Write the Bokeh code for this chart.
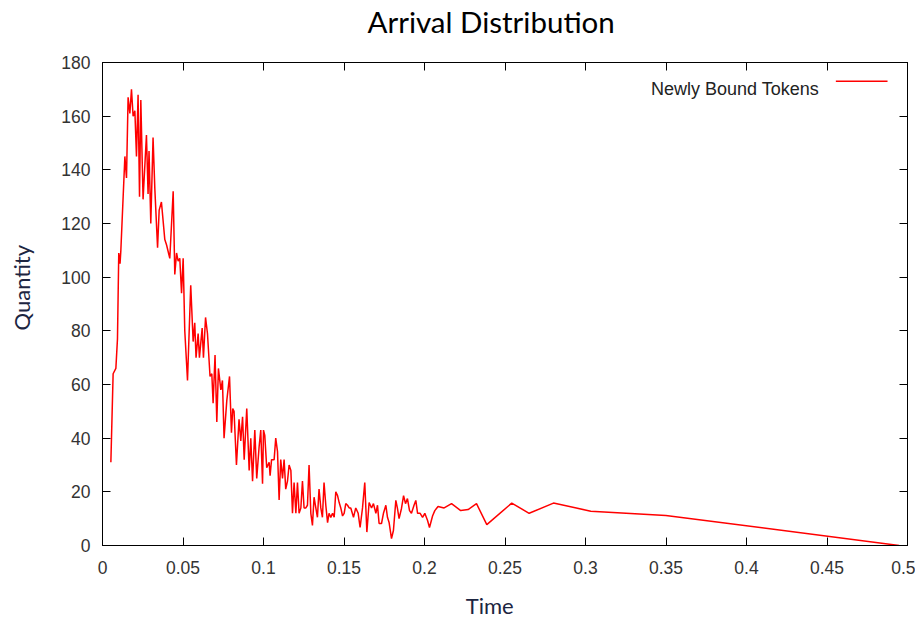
from bokeh.plotting import figure
from bokeh.models import Range1d, LinearAxis, FixedTicker, Title, NumeralTickFormatter, CustomJSTickFormatter, Label
from bokeh.embed import file_html
from bokeh.resources import INLINE

# ---- data ----
time = [
    0.0052, 0.0066, 0.0083, 0.0093, 0.0101, 0.0109, 0.0114, 0.0139, 0.0149, 0.0159,
    0.0170, 0.0180, 0.0190, 0.0201, 0.0211, 0.0221, 0.0230, 0.0238, 0.0252, 0.0273,
    0.0283, 0.0289, 0.0300, 0.0314, 0.0325, 0.0342, 0.0352, 0.0366, 0.0387, 0.0398,
    0.0418, 0.0439, 0.0449, 0.0460, 0.0470, 0.0480, 0.0491, 0.0501, 0.0511, 0.0528,
    0.0548, 0.0563, 0.0573, 0.0581, 0.0594, 0.0602, 0.0619, 0.0627, 0.0640, 0.0652,
    0.0668, 0.0679, 0.0687, 0.0699, 0.0710, 0.0720, 0.0735, 0.0745, 0.0755, 0.0772,
    0.0789, 0.0801, 0.0809, 0.0817, 0.0832, 0.0848, 0.0859, 0.0870, 0.0880, 0.0896,
    0.0911, 0.0921, 0.0932, 0.0946, 0.0958, 0.0973, 0.0983, 0.0994, 0.1000, 0.1008,
    0.1020, 0.1035, 0.1041, 0.1050, 0.1066, 0.1076, 0.1087, 0.1097, 0.1107, 0.1118,
    0.1128, 0.1138, 0.1149, 0.1159, 0.1170, 0.1180, 0.1190, 0.1201, 0.1211, 0.1221,
    0.1232, 0.1242, 0.1252, 0.1263, 0.1273, 0.1283, 0.1294, 0.1304, 0.1314, 0.1325,
    0.1335, 0.1345, 0.1356, 0.1366, 0.1376, 0.1387, 0.1398, 0.1407, 0.1418, 0.1429,
    0.1439, 0.1449, 0.1460, 0.1470, 0.1480, 0.1491, 0.1501, 0.1511, 0.1522, 0.1532,
    0.1542, 0.1559, 0.1573, 0.1588, 0.1600, 0.1615, 0.1629, 0.1642, 0.1656, 0.1671,
    0.1683, 0.1698, 0.1708, 0.1718, 0.1733, 0.1745, 0.1760, 0.1770, 0.1780, 0.1795,
    0.1807, 0.1822, 0.1832, 0.1842, 0.1857, 0.1870, 0.1882, 0.1894, 0.1907, 0.1919,
    0.1935, 0.1946, 0.1957, 0.1973, 0.1988, 0.2002, 0.2019, 0.2031, 0.2050, 0.2064,
    0.2084, 0.2122, 0.2168, 0.2225, 0.2271, 0.2323, 0.2387, 0.2542, 0.2650, 0.2801,
    0.3033, 0.3499, 0.4948,
]
quantity = [
    31, 64, 66, 77, 109, 105, 110, 145, 137, 167,
    161, 170, 160, 162, 145, 168, 130, 166, 129, 153,
    131, 147, 120, 152, 133, 111, 125, 128, 114, 112,
    107, 132, 101, 109, 106, 107, 94, 107, 80, 61.5,
    97, 76, 83, 70, 79, 70, 81, 70, 85, 79,
    63, 64, 53, 71, 46, 66, 58, 61.5, 40, 54,
    63, 42, 51, 50, 30, 47, 39, 48, 32, 51,
    28, 40, 24, 43, 25, 37, 43, 23, 43, 41,
    29, 31, 26, 32, 32, 40, 35, 17, 32, 25,
    32, 21, 24, 30, 28, 12, 23.5, 12, 23.5, 12,
    14, 24, 14, 14, 15, 30, 12, 7.5, 18, 14,
    10.5, 21, 14, 10.5, 23.5, 15, 8.5, 12, 10.5, 12,
    10.5, 20, 18.6, 16, 14, 11, 12, 15.6, 15, 14,
    14, 10.5, 14, 12, 6.7, 14, 23.5, 5, 16, 14,
    15.6, 12, 15, 8.2, 8.2, 12, 15, 10.5, 8.6, 2.6,
    5.6, 16.8, 13.8, 10, 13.8, 18.6, 15.6, 17.5, 13, 12,
    15, 16.8, 12, 12, 10.5, 12, 9.3, 6.7, 11, 13,
    14.5, 14, 15.6, 13, 13.4, 15.6, 7.8, 15.8, 12, 15.8,
    12.8, 11.2, 0,
]
x_ticks = [0, 0.05, 0.1, 0.15, 0.2, 0.25, 0.3, 0.35, 0.4, 0.45, 0.5]
y_ticks = [0, 20, 40, 60, 80, 100, 120, 140, 160, 180]
series_name = "Newly Bound Tokens"
title_text = "Arrival Distribution"
x_label = "Time"
y_label = "Quantity"

TICK_FONT = "Liberation Sans"
LABEL_FONT = "Lato"
LABEL_COLOR = "#1c2541"

p = figure(
    frame_width=805, frame_height=483,
    min_border_left=102, min_border_right=8, min_border_top=62, min_border_bottom=76,
    x_range=Range1d(0, 0.5), y_range=Range1d(0, 180),
    output_backend="svg", toolbar_location=None,
    background_fill_color="white", border_fill_color="white",
)
p.xgrid.visible = False
p.ygrid.visible = False
p.outline_line_color = "black"
p.outline_line_width = 1


def style_axis(ax, ticks, show_labels, standoff=12):
    ax.ticker = FixedTicker(ticks=ticks)
    ax.major_tick_in = 8
    ax.major_tick_out = 0
    ax.minor_tick_line_color = None
    ax.major_tick_line_color = "black"
    ax.major_tick_line_width = 1
    ax.axis_line_color = "black"
    ax.axis_line_width = 1
    if show_labels:
        ax.major_label_text_font = TICK_FONT
        ax.major_label_text_font_size = "17.5px"
        ax.major_label_text_color = "#333333"
        ax.major_label_standoff = standoff
    else:
        ax.formatter = CustomJSTickFormatter(code="return ''")
        ax.major_label_text_font_size = "1px"
        ax.major_label_standoff = 0


def spacer_axis(ticks, size):
    # invisible axis whose only role is to reserve `size` px in a side panel
    ax = LinearAxis(ticker=FixedTicker(ticks=ticks))
    ax.formatter = CustomJSTickFormatter(code="return ''")
    ax.major_label_text_font_size = "1px"
    ax.major_label_standoff = 0
    ax.major_tick_in = 0
    ax.major_tick_out = size
    ax.major_tick_line_color = None
    ax.minor_tick_line_color = None
    ax.axis_line_color = None
    return ax


style_axis(p.xaxis[0], x_ticks, True, 15)
p.xaxis[0].formatter = NumeralTickFormatter(format="0.[00]")
style_axis(p.yaxis[0], y_ticks, True, 12)

# mirrored tick marks (gnuplot style)
top_axis = LinearAxis()
style_axis(top_axis, x_ticks, False)
p.add_layout(top_axis, "above")
right_axis = LinearAxis()
style_axis(right_axis, y_ticks, False)
p.add_layout(right_axis, "right")

# spacers that push the titles outward
p.add_layout(spacer_axis(x_ticks, 24), "above")
p.add_layout(spacer_axis(y_ticks, 24), "left")
p.add_layout(spacer_axis(x_ticks, 13), "below")

p.line(time, quantity, line_color="#ff0000", line_width=1.5)

# legend (text then sample, gnuplot style)
p.add_layout(Label(x=0.4451, y=170.1, text=series_name, text_font=TICK_FONT,
                   text_font_size="18px", text_color="#222222",
                   text_align="right", text_baseline="alphabetic"))
p.line([0.4555, 0.4876], [173.0, 173.0], line_color="#ff0000", line_width=1.5)

# title and axis labels as side-panel titles
p.title.text = title_text
p.title.align = "left"
p.title.offset = 265.0
p.title.text_font = LABEL_FONT
p.title.text_font_size = "29.5px"
p.title.text_font_style = "normal"
p.title.text_color = "black"
p.title.standoff = 0

p.add_layout(Title(text=x_label, align="left", offset=363.3, text_font=LABEL_FONT,
                   text_font_size="22px", text_font_style="normal",
                   text_color=LABEL_COLOR, standoff=0), "below")
p.add_layout(Title(text=y_label, align="left", offset=215, text_font=LABEL_FONT,
                   text_font_size="22px", text_font_style="normal",
                   text_color=LABEL_COLOR, standoff=0), "left")

open("out.html", "w").write(file_html(p, INLINE))
